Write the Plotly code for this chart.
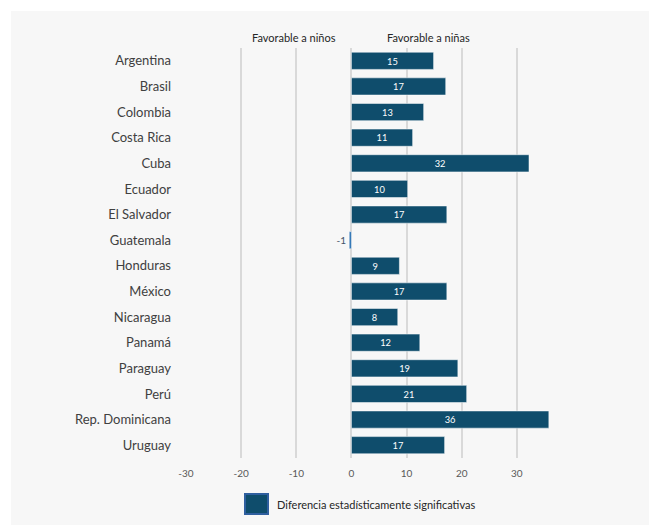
import plotly.graph_objects as go

countries = ["Argentina", "Brasil", "Colombia", "Costa Rica", "Cuba", "Ecuador",
             "El Salvador", "Guatemala", "Honduras", "México", "Nicaragua", "Panamá",
             "Paraguay", "Perú", "Rep. Dominicana", "Uruguay"]
values = [14.9, 17.1, 13.1, 11.1, 32.2, 10.2, 17.3, -0.4, 8.7, 17.3, 8.4, 12.4,
          19.3, 20.9, 35.8, 16.9]
labels = ["15", "17", "13", "11", "32", "10", "17", "-1", "9", "17", "8", "12",
          "19", "21", "36", "17"]
significant = [True, True, True, True, True, True, True, False, True, True, True, True,
               True, True, True, True]
x_ticks = [-30, -20, -10, 0, 10, 20, 30]
x_tick_text = ["-30", "-20", "-10", "0", "10", "20", "30"]
legend_label = "Diferencia estadísticamente significativas"
side_labels = ["Favorable a niños", "Favorable a niñas"]

DARK = "#0f4d6c"
LIGHT = "#2e75b6"
FONT = "Lato, 'Open Sans', sans-serif"

colors = [DARK if s else LIGHT for s in significant]
positions = ["inside" if s else "outside" for s in significant]

fig = go.Figure()
fig.add_trace(go.Bar(
    y=countries, x=values, orientation="h",
    marker=dict(color=colors, line=dict(color="#ffffff", width=0.5)),
    text=labels, textposition=positions, insidetextanchor="middle", textangle=0,
    insidetextfont=dict(color="white", size=10, family=FONT),
    outsidetextfont=dict(color="#44546a", size=10, family=FONT),
    cliponaxis=False, showlegend=False, hoverinfo="x+y",
))

OFF = 8  # page body margin
W, H = 657, 525
# plot area in screen pixels
SL, SR, ST, SB = 186, 572, 48, 458
L, T = SL - OFF, ST - OFF
R, B = W - (SR - OFF), H - (SB - OFF)
pw, ph = SR - SL, SB - ST

def px(xs):
    return (xs - SL) / pw

def py(ys):
    return (SB - ys) / ph

shapes = [
    dict(type="rect", xref="paper", yref="paper", x0=px(11), x1=px(680), y0=py(560), y1=py(11),
         fillcolor="#f7f7f7", line=dict(width=0), layer="below"),
    dict(type="rect", xref="paper", yref="paper", x0=px(245), x1=px(268), y0=py(514), y1=py(494),
         fillcolor=DARK, line=dict(color="#2f5f9f", width=2), layer="above"),
]

annotations = [
    dict(text=side_labels[0], x=-10.5, xref="x", y=py(38), yref="paper", xanchor="center",
         yanchor="middle", showarrow=False, font=dict(size=11, color="#262626", family=FONT)),
    dict(text=side_labels[1], x=14, xref="x", y=py(38), yref="paper", xanchor="center",
         yanchor="middle", showarrow=False, font=dict(size=11, color="#262626", family=FONT)),
    dict(text=legend_label, x=px(275), xref="paper", y=py(504), yref="paper", xanchor="left",
         yanchor="middle", showarrow=False, font=dict(size=11, color="#262626", family=FONT)),
]

fig.update_layout(
    width=W, height=H,
    margin=dict(l=L, r=R, t=T, b=B, pad=0, autoexpand=False),
    paper_bgcolor="white", plot_bgcolor="rgba(0,0,0,0)",
    bargap=0.33,
    shapes=shapes, annotations=annotations,
    font=dict(family=FONT),
    xaxis=dict(range=[-30, 40], tickvals=x_ticks, ticktext=x_tick_text, showgrid=True,
               gridcolor="#d9d9d9", gridwidth=2, zeroline=False, showline=False, ticks="",
               tickfont=dict(size=10, color="#595959", family=FONT), ticklabelstandoff=8,
               automargin=False, fixedrange=True),
    yaxis=dict(categoryorder="array", categoryarray=countries, autorange="reversed",
               showgrid=False, zeroline=False, showline=False, ticks="",
               tickfont=dict(size=13, color="#404040", family=FONT), ticklabelstandoff=14,
               automargin=False, fixedrange=True),
)

fig.write_html("out.html")
